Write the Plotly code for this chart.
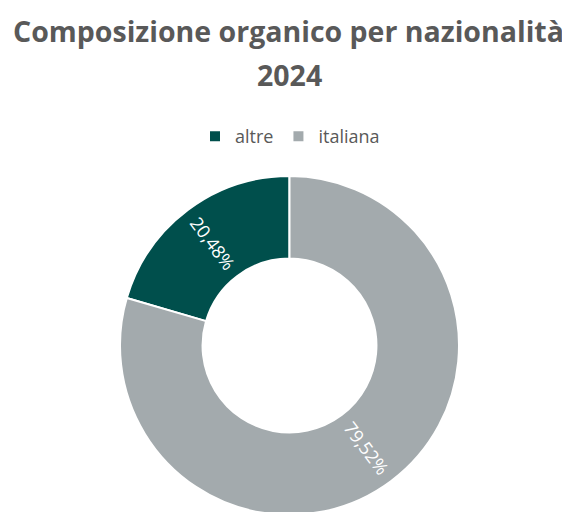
import math
import plotly.graph_objects as go

labels = ["altre", "italiana"]
values = [20.48, 79.52]
colors = ["#004F4C", "#A3AAAD"]
text_labels = ["20,48%", "79,52%"]
title_line1 = "Composizione organico per nazionalità"
title_line2 = "2024"

W, H = 570, 530  # figure taller than window; page bottom is cropped like the reference
HOLE = 0.513
dom_x = [112 / W, 451 / W]
dom_y = [1 - 507 / H, 1 - 168 / H]

total = sum(values)
# first slice ends at 12 o'clock, i.e. altre lies counterclockwise of the top
start_rotation = -360 * values[0] / total

fig = go.Figure(go.Pie(
    labels=labels,
    values=values,
    text=text_labels,
    texttemplate="%{text}",
    textposition=["inside", "none"],
    insidetextorientation="radial",
    insidetextfont=dict(color="white", size=18, family="Open Sans"),
    hole=HOLE,
    sort=False,
    direction="clockwise",
    rotation=start_rotation,
    marker=dict(colors=colors, line=dict(color="white", width=2)),
    domain=dict(x=dom_x, y=dom_y),
    showlegend=True,
    hoverinfo="label+percent",
))

# radial label of the large slice, placed at its mid angle (plotly would put it at 9 o'clock)
cx = (dom_x[0] + dom_x[1]) / 2 * W
cy = (1 - (dom_y[0] + dom_y[1]) / 2) * H
r_out = min((dom_x[1] - dom_x[0]) * W, (dom_y[1] - dom_y[0]) * H) / 2
r_mid = r_out * (1 + HOLE) / 2
theta = 0.0 + 360 * (values[1] / 2) / total  # clockwise from 12 o'clock
tr = math.radians(theta)
lx = cx + r_mid * math.sin(tr)
ly = cy - r_mid * math.cos(tr)
angle = (theta + 720) % 180 - 90

annotations = [
    dict(text="<b>" + title_line1 + "</b>", x=280 / W, y=1 - 22.9 / H,
         xref="paper", yref="paper", xanchor="center", yanchor="middle",
         showarrow=False, font=dict(family="Open Sans", size=28.5, color="#595959")),
    dict(text="<b>" + title_line2 + "</b>", x=281.5 / W, y=1 - 67.2 / H,
         xref="paper", yref="paper", xanchor="center", yanchor="middle",
         showarrow=False, font=dict(family="Open Sans", size=28.5, color="#595959")),
    dict(text=text_labels[1], x=lx / W, y=1 - ly / H, xref="paper", yref="paper",
         xanchor="center", yanchor="middle", textangle=angle, showarrow=False,
         font=dict(family="Open Sans", size=18, color="white")),
]

fig.update_layout(
    width=W, height=H,
    margin=dict(l=0, r=0, t=0, b=0),
    paper_bgcolor="white",
    plot_bgcolor="white",
    legend=dict(
        orientation="h", x=282 / W, xanchor="center", y=1 - 128.5 / H, yanchor="middle",
        font=dict(family="Open Sans", size=18, color="#595959"),
    ),
    annotations=annotations,
)

fig.write_html("out.html")
